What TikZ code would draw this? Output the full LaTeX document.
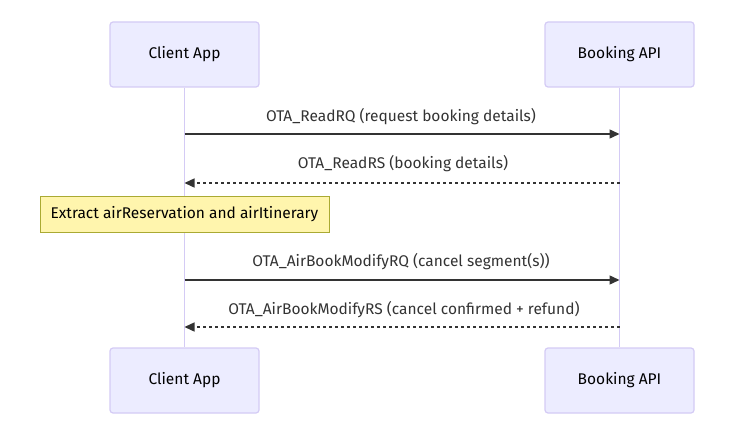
\documentclass[tikz,border=0pt]{standalone}
\usepackage{fontspec}
\setmainfont{Fira Sans}
\usetikzlibrary{arrows.meta}
\definecolor{actfill}{HTML}{ECECFF}
\definecolor{actline}{HTML}{D4CBF5}
\definecolor{notefill}{HTML}{FFF5AD}
\definecolor{noteline}{HTML}{AAAA33}
\definecolor{txt}{HTML}{333333}
\tikzset{
  actor/.style={draw=actline, fill=actfill, line width=1.2pt, rounded corners=3pt, minimum width=149pt, minimum height=65pt, inner sep=0pt, font=\fontsize{15.5}{18}\selectfont, text=black},
  lifeline/.style={draw=actline, line width=1.5pt},
  msg/.style={draw=txt, line width=1.4pt, -{Triangle[length=10pt,width=9pt]}},
  reply/.style={msg, dash pattern=on 3pt off 3pt},
  lbl/.style={font=\fontsize{15.5}{18}\selectfont, text=txt, inner sep=0pt},
  notebox/.style={draw=noteline, fill=notefill, line width=1pt, minimum width=289pt, minimum height=36pt, inner sep=0pt, font=\fontsize{15.5}{18}\selectfont, text=black}
}
\begin{document}
\begin{tikzpicture}[x=1pt,y=-1pt]
\useasboundingbox (0,0) rectangle (742,436);
\fill[white] (0,0) rectangle (742,436);
\node[actor] (cA) at (184.5,54.5) {Client App};
\node[actor] (bA) at (619.5,54.5) {Booking API};
\node[actor] (cB) at (184.5,380.5) {Client App};
\node[actor] (bB) at (619.5,380.5) {Booking API};
\draw[lifeline] (cA.south) -- (cB.north);
\draw[lifeline] (bA.south) -- (bB.north);
\coordinate (c1) at (184.5,134); \coordinate (b1) at (619.5,134);
\coordinate (c2) at (184.5,183); \coordinate (b2) at (619.5,183);
\coordinate (c3) at (184.5,280); \coordinate (b3) at (619.5,280);
\coordinate (c4) at (184.5,327); \coordinate (b4) at (619.5,327);
\draw[msg] (c1) -- (b1);
\node[lbl] (l1) at (401,117) {OTA\_ReadRQ (request booking details)};
\draw[reply] (b2) -- (c2);
\node[lbl] (l2) at (403,164) {OTA\_ReadRS (booking details)};
\node[notebox] (n1) at (184.5,214) {Extract airReservation and airItinerary};
\draw[msg] (c3) -- (b3);
\node[lbl] (l3) at (401,262) {OTA\_AirBookModifyRQ (cancel segment(s))};
\draw[reply] (b4) -- (c4);
\node[lbl] (l4) at (404,310) {OTA\_AirBookModifyRS (cancel confirmed + refund)};
\end{tikzpicture}
\end{document}
